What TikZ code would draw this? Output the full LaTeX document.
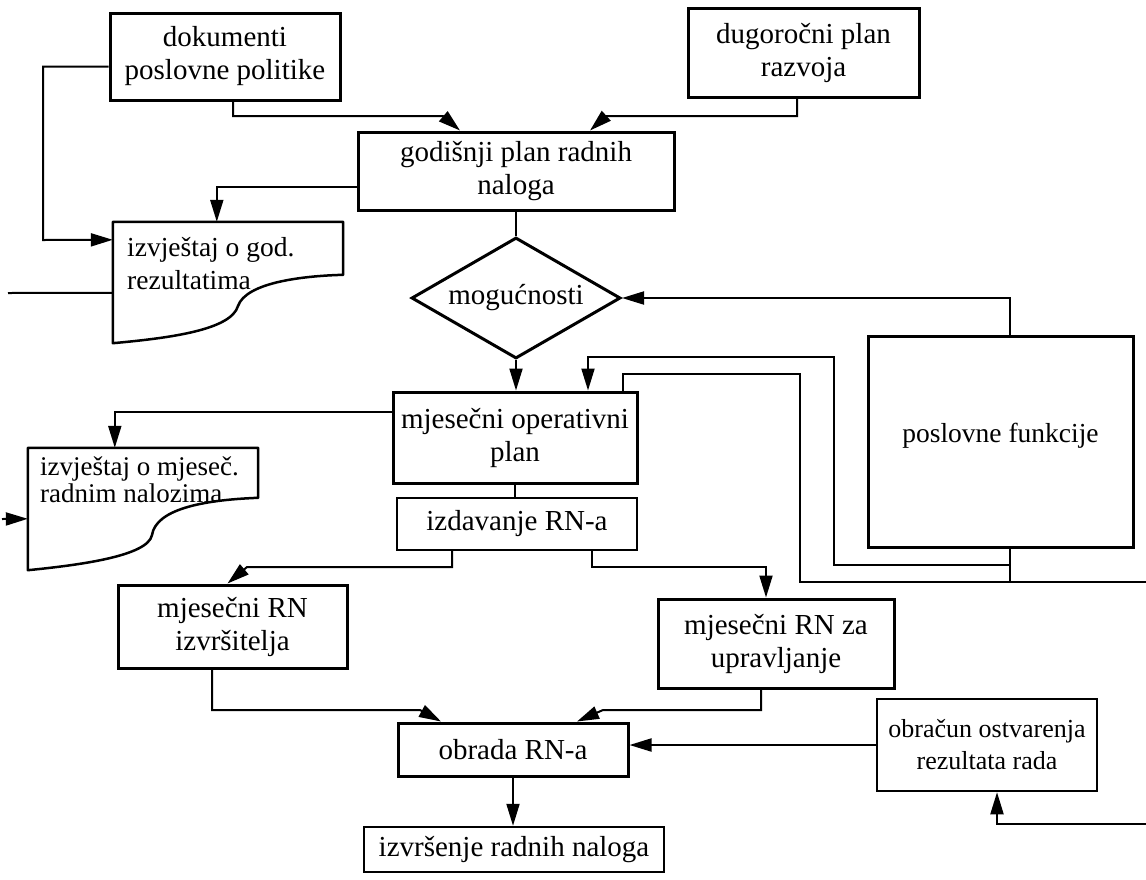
\documentclass[tikz,border=0pt]{standalone}
\usepackage{fontspec}
\setmainfont{Liberation Serif}
\usetikzlibrary{arrows.meta,shapes.geometric,calc}
\begin{document}
\begin{tikzpicture}[x=1pt,y=-1pt,
  box/.style={draw, line width=3pt, inner sep=0pt, align=center, font=\fontsize{29}{33}\selectfont},
  thinbox/.style={box, line width=1.9pt},
  midbox/.style={box, line width=2.5pt},
  docline/.style={line width=2.5pt, line join=round},
  doctext/.style={anchor=north west, inner sep=0pt, align=left},
  conn/.style={line width=2pt},
  arr/.style={conn, -{Triangle[length=22pt,width=13pt]}},
]
\fill[white] (0,0) rectangle (1146,879);
\useasboundingbox (0,0) rectangle (1146,879);

% boxes
\node[box, minimum width=230pt, minimum height=87pt] (dok) at (225,56.5) {dokumenti\\poslovne politike};
\node[box, minimum width=231pt, minimum height=89pt] (dug) at (803.5,52.5) {dugoročni plan\\razvoja};
\node[box, minimum width=316pt, minimum height=78pt] (god) at (516,171) {godišnji plan radnih\\naloga};
\node[box, shape=diamond, aspect=1.73, minimum width=209pt, minimum height=121pt] (dia) at (516,298) {mogućnosti};
\node[box, minimum width=244pt, minimum height=91pt] (op) at (515,437.5) {mjesečni operativni\\plan};
\node[thinbox, minimum width=240pt, minimum height=52pt] (izd) at (517,524) {izdavanje RN-a};
\node[box, minimum width=229pt, minimum height=83pt] (izv) at (232.5,626.5) {mjesečni RN\\izvršitelja};
\node[box, minimum width=236pt, minimum height=89pt] (upr) at (776,643.5) {mjesečni RN za\\upravljanje};
\node[box, minimum width=230pt, minimum height=53pt] (obr) at (513,749.5) {obrada RN-a};
\node[midbox, minimum width=300pt, minimum height=45pt] (izs) at (514,849.5) {izvršenje radnih naloga};
\node[midbox, minimum width=220pt, minimum height=92pt, font=\fontsize{26}{32}\selectfont] (obc) at (987,745) {obračun ostvarenja\\rezultata rada};
\node[box, minimum width=265pt, minimum height=211pt, font=\fontsize{27.5}{33}\selectfont] (pos) at (1000.5,441.5) {\raisebox{18pt}{poslovne funkcije}};

% document shapes
\node[inner sep=0pt, minimum width=230pt, minimum height=121pt] (rg) at (228,282.5) {};
\draw[docline] (rg.north west) -- (rg.north east) -- ++(0,53)
  .. controls (300,276) and (246,283) .. (238,306)
  .. controls (231,330) and (170,338) .. (rg.south west) -- cycle;
\node[doctext, font=\fontsize{27.5}{33}\selectfont] (rgt) at (127,237) {izvještaj o god.\\rezultatima};

\node[inner sep=0pt, minimum width=230pt, minimum height=122pt] (rm) at (143,509) {};
\draw[docline] (rm.north west) -- (rm.north east) -- ++(0,50)
  .. controls (200,500) and (156,510) .. (152,535)
  .. controls (148,556) and (80,565) .. (rm.south west) -- cycle;
\node[doctext, font=\fontsize{27}{27}\selectfont] (rmt) at (40,456.5) {izvještaj o mjeseč.\\radnim nalozima};

% free ends
\coordinate (e1) at (8,293);
\coordinate (e2) at (1146,582);
\coordinate (e3) at (2,519);
\coordinate (e4) at (1146,824);
\coordinate (j1) at (1010,565);

% connectors
\draw[arr] ([xshift=8pt]dok.south) -- (233,116) -- (443,116) -- ([xshift=-56pt]god.north);
\draw[arr] ([xshift=-6.5pt]dug.south) -- (797,116) -- (606,116) -- ([xshift=74pt]god.north);
\draw[arr] ([yshift=-10pt]dok.west) -- (43,66.5) -- (43,240) -- ([yshift=-18pt]rg.north west);
\draw[arr] ([yshift=-16pt]god.west) -| ([xshift=104pt]rg.north west);
\draw[conn] ([yshift=-71pt]rg.north west) -- (e1);

\draw[conn] (god.south) -- (dia.north);
\draw[arr] (dia.south) -- (dia.south |- op.north);
\draw[arr] ([xshift=9.5pt]pos.north) |- (dia.east);

\draw[conn] ([xshift=9.5pt]pos.south) -- (1010,582);
\draw[arr] (j1) -- (834,565) -- (834,357) -- (588,357) -- ([xshift=73pt]op.north);
\draw[conn] ([xshift=108pt]op.north) -- (623,374) -- (800,374) -- (800,582) -- (e2);

\draw[arr] ([yshift=25.5pt]op.west) -| ([xshift=87pt]rm.north west);
\draw[arr] (e3) -- ([yshift=-71pt]rm.north west);

\draw[conn] (op.south) -- (op.south |- izd.north);
\draw[arr] ([xshift=-65pt]izd.south) -- (452,567) -- (247,567) -- ([xshift=-5pt]izv.north);
\draw[arr] ([xshift=75pt]izd.south) -- (592,567) -- (766,567) -- ([xshift=-10pt]upr.north);
\draw[arr] ([xshift=-20.5pt]izv.south) -- (212,710) -- (420,710) -- ([xshift=-72pt]obr.north);
\draw[arr] ([xshift=-15pt]upr.south) -- (761,710) -- (603,710) -- ([xshift=64pt]obr.north);
\draw[arr] (obr.south) -- (obr.south |- izs.north);
\draw[arr] (obc.west) -- (obc.west -| obr.east);
\draw[arr] (e4) -- (997,824) -- ([xshift=10pt]obc.south);
\end{tikzpicture}
\end{document}
